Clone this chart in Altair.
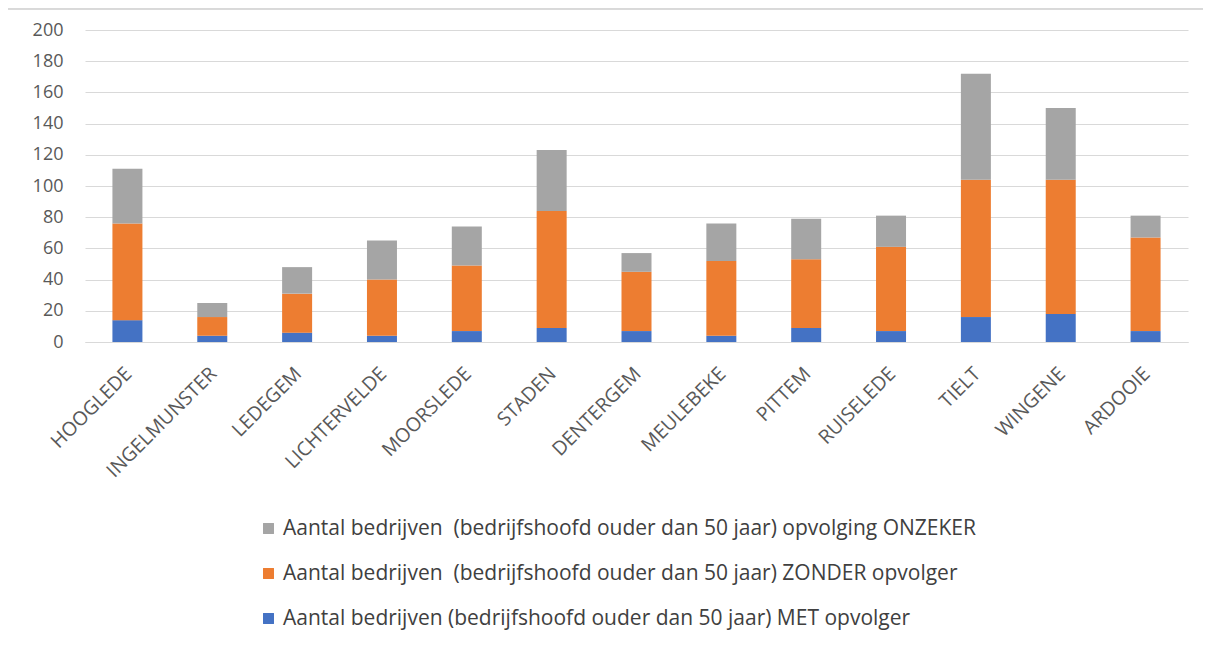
import altair as alt
import pandas as pd

gemeenten = ["HOOGLEDE", "INGELMUNSTER", "LEDEGEM", "LICHTERVELDE", "MOORSLEDE", "STADEN",
             "DENTERGEM", "MEULEBEKE", "PITTEM", "RUISELEDE", "TIELT", "WINGENE", "ARDOOIE"]
met = [14, 4, 6, 4, 7, 9, 7, 4, 9, 7, 16, 18, 7]
zonder = [62, 12, 25, 36, 42, 75, 38, 48, 44, 54, 88, 86, 60]
onzeker = [35, 9, 17, 25, 25, 39, 12, 24, 26, 20, 68, 46, 14]

s_met = "Aantal bedrijven (bedrijfshoofd ouder dan 50 jaar) MET opvolger"
s_zonder = "Aantal bedrijven \u00a0(bedrijfshoofd ouder dan 50 jaar) ZONDER opvolger"
s_onz = "Aantal bedrijven \u00a0(bedrijfshoofd ouder dan 50 jaar) opvolging ONZEKER"

rows = []
for i, g in enumerate(gemeenten):
    rows.append({"gemeente": g, "serie": s_met, "waarde": met[i], "k": 0})
    rows.append({"gemeente": g, "serie": s_zonder, "waarde": zonder[i], "k": 1})
    rows.append({"gemeente": g, "serie": s_onz, "waarde": onzeker[i], "k": 2})
df = pd.DataFrame(rows)

font = "Open Sans"

bars = alt.Chart(df).mark_bar(size=30).encode(
    x=alt.X("gemeente:N", sort=gemeenten, title=None,
            axis=alt.Axis(labelAngle=-45, labelFontSize=19.5, labelColor="#595959",
                          labelFont=font, ticks=False, domain=True, domainColor="#d9d9d9",
                          labelPadding=22, labelOffset=-5)),
    y=alt.Y("waarde:Q", stack="zero", title=None,
            scale=alt.Scale(domain=[0, 200], nice=False),
            axis=alt.Axis(values=list(range(0, 201, 20)), labelFontSize=18, labelColor="#595959",
                          labelFont=font, ticks=False, domain=False, gridColor="#d9d9d9",
                          gridWidth=1, labelPadding=22)),
    color=alt.Color("serie:N",
                    scale=alt.Scale(domain=[s_onz, s_zonder, s_met],
                                    range=["#A5A5A5", "#ED7D31", "#4472C4"]),
                    legend=alt.Legend(title=None, orient="none", legendX=173, legendY=488,
                                      direction="vertical", symbolType="square", symbolSize=120,
                                      symbolStrokeWidth=0, labelFontSize=21, labelColor="#404040",
                                      labelFont=font, rowPadding=23, labelLimit=900,
                                      labelOffset=4)),
    order=alt.Order("k:Q", sort="ascending"),
)

frame_left = alt.Chart(df).mark_rule(color="#d9d9d9", strokeWidth=1).encode(
    x=alt.value(-83), y=alt.value(-21), y2=alt.value(620))
frame_top = alt.Chart(df).mark_rule(color="#d9d9d9", strokeWidth=1).encode(
    x=alt.value(-83), x2=alt.value(1125), y=alt.value(-21))

chart = alt.layer(frame_left, frame_top, bars).properties(
    width=1103, height=312,
    padding={"left": 77, "top": 22, "right": 15, "bottom": 298},
    autosize=alt.AutoSizeParams(type="none"),
).configure_view(stroke=None)

chart.save("out.html", embed_options={"renderer": "svg", "actions": False})
